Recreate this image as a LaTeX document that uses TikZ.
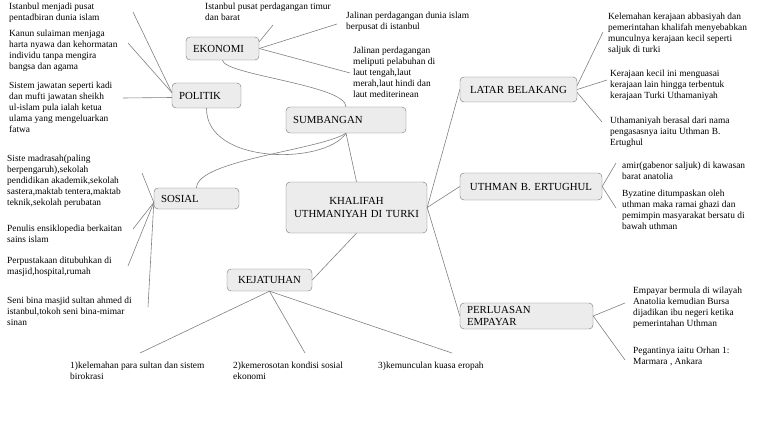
\documentclass[tikz,border=0pt]{standalone}
\usepackage{fontspec}
\setmainfont{Liberation Serif}
\begin{document}
\begin{tikzpicture}[x=1pt,y=-1pt]
        \tikzset{box/.style={draw=gray!90!black,fill=gray!15,rounded corners=4pt,inner xsep=7pt,inner ysep=0pt,font=\fontsize{10.8}{13}\selectfont},
                 leaf/.style={anchor=north west,align=left,inner sep=0pt,font=\fontsize{9.4}{11}\selectfont},
                 link/.style={draw=gray,line width=0.6pt}};
        \useasboundingbox (0,0) rectangle (768,433);
        % main boxes
        \node[box,text width=127pt,minimum height=51pt,align=center] (khalifah) at (356.5,207.5) {KHALIFAH\\UTHMANIYAH DI TURKI};
        \node[box,text width=106pt,minimum height=26pt,align=left] (sumbangan) at (346,120) {SUMBANGAN};
        \node[box,text width=59pt,minimum height=23pt,align=left] (ekonomi) at (222.5,48.5) {EKONOMI};
        \node[box,text width=55pt,minimum height=25pt,align=left] (politik) at (206.5,95.5) {POLITIK};
        \node[box,text width=71pt,minimum height=21pt,align=left] (sosial) at (196.5,198.5) {SOSIAL};
        \node[box,text width=71pt,minimum height=22pt,align=center] (kejatuhan) at (269.5,280) {KEJATUHAN};
        \node[box,text width=103pt,minimum height=25pt,align=center] (latar) at (518.5,89.5) {LATAR BELAKANG};
        \node[box,text width=128pt,minimum height=27pt,align=center] (uthman) at (531,186.5) {UTHMAN B. ERTUGHUL};
        \node[box,text width=119pt,minimum height=26pt,align=left,font=\fontsize{10.8}{11.5}\selectfont] (perluasan) at (526.5,316) {PERLUASAN\\EMPAYAR};
        % leaf texts
        \node[leaf] (e1) at (205,3) {Istanbul pusat perdagangan timur\\dan barat};
        \node[leaf] (e2) at (346,12) {Jalinan perdagangan dunia islam\\berpusat di istanbul};
        \node[leaf] (e3) at (353,47) {Jalinan perdagangan\\meliputi pelabuhan di\\laut tengah,laut\\merah,laut hindi dan\\laut mediterinean};
        \node[leaf] (p1) at (9,3) {Istanbul menjadi pusat\\pentadbiran dunia islam};
        \node[leaf] (p2) at (9,30) {Kanun sulaiman menjaga\\harta nyawa dan kehormatan\\individu tanpa mengira\\bangsa dan agama};
        \node[leaf] (p3) at (9,82) {Sistem jawatan seperti kadi\\dan mufti  jawatan sheikh\\ul-islam pula ialah ketua\\ulama yang mengeluarkan\\fatwa};
        \node[leaf] (s1) at (7,155) {Siste madrasah(paling\\berpengaruh),sekolah\\pendidikan akademik,sekolah\\sastera,maktab tentera,maktab\\teknik,sekolah perubatan};
        \node[leaf] (s2) at (7,225) {Penulis ensiklopedia berkaitan\\sains islam};
        \node[leaf] (s3) at (7,257) {Perpustakaan ditubuhkan di\\masjid,hospital,rumah};
        \node[leaf] (s4) at (7,297) {Seni bina masjid sultan ahmed di\\istanbul,tokoh seni bina-mimar\\sinan};
        \node[leaf] (j1) at (70,362) {1)kelemahan para sultan dan sistem\\birokrasi};
        \node[leaf] (j2) at (233,362) {2)kemerosotan kondisi sosial\\ekonomi};
        \node[leaf] (j3) at (378,362) {3)kemunculan kuasa eropah};
        \node[leaf] (l1) at (608,13) {Kelemahan kerajaan abbasiyah dan\\pemerintahan khalifah menyebabkan\\munculnya kerajaan kecil seperti\\saljuk di turki};
        \node[leaf] (l2) at (610,70) {Kerajaan kecil ini menguasai\\kerajaan lain hingga terbentuk\\kerajaan Turki Uthamaniyah};
        \node[leaf] (l3) at (610,117) {Uthamaniyah berasal dari nama\\pengasasnya iaitu Uthman B.\\Ertughul};
        \node[leaf] (u1) at (622,162) {amir(gabenor saljuk) di kawasan\\barat anatolia};
        \node[leaf] (u2) at (622,190) {Byzatine ditumpaskan oleh\\uthman maka ramai ghazi dan\\pemimpin masyarakat bersatu di\\bawah uthman};
        \node[leaf] (r1) at (633,287) {Empayar bermula di wilayah\\Anatolia kemudian Bursa\\dijadikan ibu negeri ketika\\pemerintahan Uthman};
        \node[leaf] (r2) at (633,347) {Pegantinya iaitu Orhan 1:\\Marmara , Ankara};
        % links from the centre
        \draw[link] (khalifah.north) -- (sumbangan.south);
        \draw[link] (khalifah.south) -- (kejatuhan.east);
        \draw[link] (khalifah.east) -- (latar.west);
        \draw[link] (khalifah.east) -- (uthman.west);
        \draw[link] (khalifah.east) -- (perluasan.west);
        \draw[link] (ekonomi.south) .. controls (224,75) and (346,85) .. (sumbangan.north);
        \draw[link] (politik.south) .. controls (206,165) and (325,165) .. (sumbangan.south);
        \draw[link] (sumbangan.south) .. controls (320,150) and (197,160) .. (sosial.north);
        % leaf links
        \draw[link] ([shift={(0,5)}]ekonomi.north east) -- ([shift={(68,22)}]e1.north west);
        \draw[link] (ekonomi.east) -- ([shift={(-9,12)}]e2.north west);
        \draw[link] (ekonomi.east) -- ([shift={(-3,26)}]e3.north west);
        \draw[link] ([shift={(0,-3)}]politik.west) -- ([shift={(124,9)}]p1.north west);
        \draw[link] ([shift={(0,-3)}]politik.west) -- ([shift={(119,13)}]p2.north west);
        \draw[link] ([shift={(0,2)}]politik.west) -- ([shift={(114,16)}]p3.north west);
        \draw[link] ([shift={(0,4)}]sosial.west) -- ([shift={(135,18)}]s1.north west);
        \draw[link] ([shift={(0,4)}]sosial.west) -- ([shift={(126,4)}]s2.north west);
        \draw[link] ([shift={(0,4)}]sosial.west) -- ([shift={(121,9)}]s3.north west);
        \draw[link] ([shift={(0,4)}]sosial.west) -- ([shift={(141,10)}]s4.north west);
        \draw[link] (kejatuhan.south) -- ([shift={(70,-9)}]j1.north west);
        \draw[link] (kejatuhan.south) -- ([shift={(72,-9)}]j2.north west);
        \draw[link] (kejatuhan.south) -- ([shift={(74,-9)}]j3.north west);
        \draw[link] ([shift={(0,-4)}]latar.east) -- ([shift={(-5,19)}]l1.north west);
        \draw[link] (latar.east) -- ([shift={(-3,10)}]l2.north west);
        \draw[link] ([shift={(0,3)}]latar.east) -- ([shift={(-8,5)}]l3.north west);
        \draw[link] (uthman.east) -- ([shift={(-6,1)}]u1.north west);
        \draw[link] (uthman.east) -- ([shift={(-6,18)}]u2.north west);
        \draw[link] (perluasan.east) -- ([shift={(-8,16)}]r1.north west);
        \draw[link] (perluasan.east) -- ([shift={(-8,13)}]r2.north west);
    \end{tikzpicture}
\end{document}
